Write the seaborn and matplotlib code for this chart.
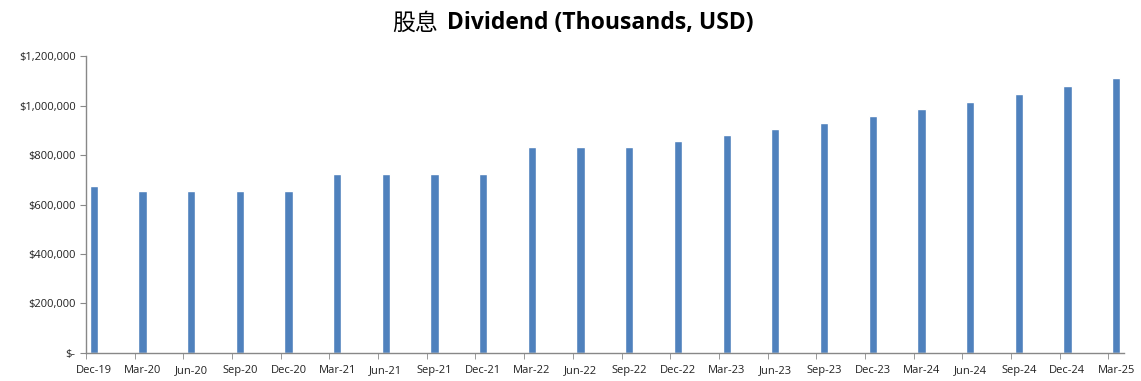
import numpy as np
import pandas as pd
import matplotlib
matplotlib.use("Agg")
import matplotlib.pyplot as plt
import seaborn as sns
from matplotlib.ticker import FuncFormatter

quarters = ["Dec-19", "Mar-20", "Jun-20", "Sep-20", "Dec-20", "Mar-21", "Jun-21",
            "Sep-21", "Dec-21", "Mar-22", "Jun-22", "Sep-22", "Dec-22", "Mar-23",
            "Jun-23", "Sep-23", "Dec-23", "Mar-24", "Jun-24", "Sep-24", "Dec-24",
            "Mar-25"]
dividend = [676000, 655000, 655000, 655000, 655000, 723000, 723000,
            723000, 723000, 832000, 832000, 832000, 857000, 881000,
            905000, 929000, 958000, 986000, 1014000, 1046000, 1079000,
            1111000]
y_ticks = [0, 200000, 400000, 600000, 800000, 1000000, 1200000]

sns.set_style("white")
plt.rcParams['font.family'] = ['Open Sans', 'DejaVu Sans']

df = pd.DataFrame({"quarter": quarters, "dividend": dividend})
df["pos"] = np.arange(len(df))

fig = plt.figure(figsize=(11.41, 3.81), dpi=100)
ax = fig.add_axes([0.0754, 0.0735, 0.9096, 0.7795])

sns.barplot(data=df, x="pos", y="dividend", native_scale=True, color="#4F81BD",
            saturation=1, width=0.17, errorbar=None, ax=ax)

ax.set_xlim(-0.155, len(df) - 1 + 0.16)
ax.set_ylim(0, 1200000)
ax.set_xticks(df["pos"], quarters)
ax.set_xticks(df["pos"] - 0.16, minor=True)
ax.set_yticks(y_ticks)
ax.yaxis.set_major_formatter(FuncFormatter(lambda v, p: "$-" if v == 0 else f"${v:,.0f}"))
ax.set_xlabel("")
ax.set_ylabel("")

ax.tick_params(axis="x", which="major", length=0, labelsize=8, pad=9, colors="#222222")
ax.tick_params(axis="x", which="minor", length=4, direction="out", color="#888888", bottom=True)
ax.tick_params(axis="y", length=4, direction="out", color="#888888", labelsize=8,
               labelcolor="#222222", left=True)
for side in ["top", "right"]:
    ax.spines[side].set_visible(False)
for side in ["left", "bottom"]:
    ax.spines[side].set_color("#888888")
    ax.spines[side].set_linewidth(1)

fig.text(438 / 1141, 1 - 23 / 381, "股息", ha="right", va="center", fontsize=16.5,
         color="black", family=["Noto Sans CJK SC", "DejaVu Sans"])
fig.text(447 / 1141, 1 - 23 / 381, "Dividend (Thousands, USD)", ha="left", va="center",
         fontsize=16.5, fontweight="bold", color="black", family=["Open Sans", "DejaVu Sans"])

fig.savefig("out.png", dpi=100)
plt.close(fig)
